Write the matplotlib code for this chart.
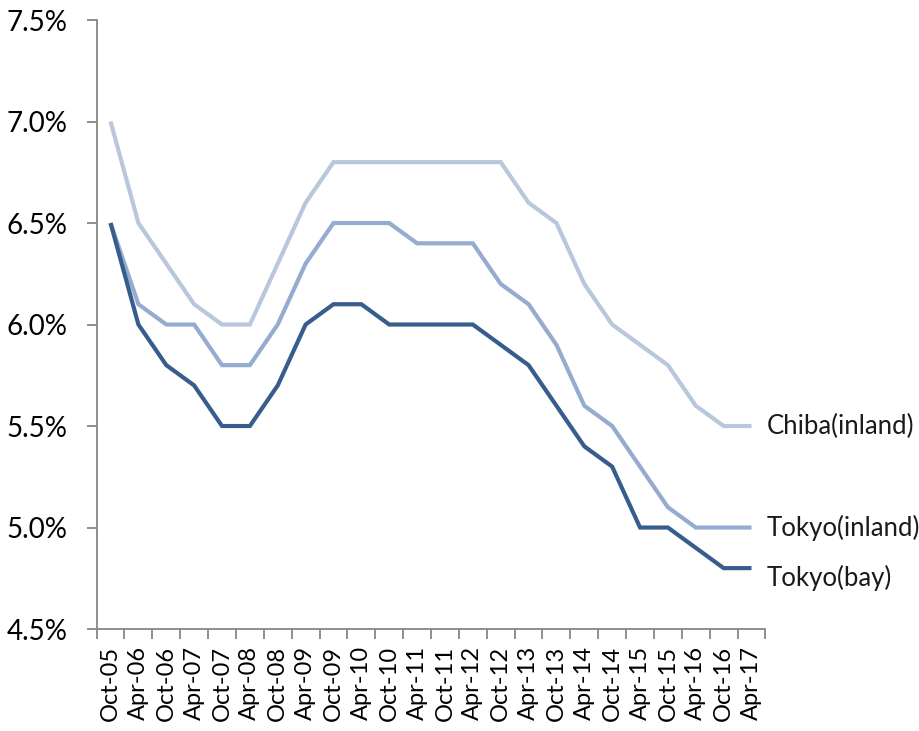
import matplotlib
matplotlib.use("Agg")
import matplotlib.pyplot as plt
from matplotlib.ticker import FuncFormatter, MultipleLocator
import numpy as np

# half-year periods
periods = ["Oct-05", "Apr-06", "Oct-06", "Apr-07", "Oct-07", "Apr-08", "Oct-08", "Apr-09",
           "Oct-09", "Apr-10", "Oct-10", "Apr-11", "Oct-11", "Apr-12", "Oct-12", "Apr-13",
           "Oct-13", "Apr-14", "Oct-14", "Apr-15", "Oct-15", "Apr-16", "Oct-16", "Apr-17"]

chiba_inland = [7.0, 6.5, 6.3, 6.1, 6.0, 6.0, 6.3, 6.6, 6.8, 6.8, 6.8, 6.8,
                6.8, 6.8, 6.8, 6.6, 6.5, 6.2, 6.0, 5.9, 5.8, 5.6, 5.5, 5.5]
tokyo_inland = [6.5, 6.1, 6.0, 6.0, 5.8, 5.8, 6.0, 6.3, 6.5, 6.5, 6.5, 6.4,
                6.4, 6.4, 6.2, 6.1, 5.9, 5.6, 5.5, 5.3, 5.1, 5.0, 5.0, 5.0]
tokyo_bay = [6.5, 6.0, 5.8, 5.7, 5.5, 5.5, 5.7, 6.0, 6.1, 6.1, 6.0, 6.0,
             6.0, 6.0, 5.9, 5.8, 5.6, 5.4, 5.3, 5.0, 5.0, 4.9, 4.8, 4.8]

series_names = ["Chiba(inland)", "Tokyo(inland)", "Tokyo(bay)"]
colors = ["#b9c7dd", "#95abd0", "#375d8c"]
label_offsets = [0, 0, -7]  # points, vertical nudge for the end labels

plt.rcParams['font.family'] = ['Lato', 'DejaVu Sans']

fig = plt.figure(figsize=(9.2, 7.31), dpi=100)
ax = fig.add_axes([0.105, 0.1395, 0.727, 0.8331])

x = np.arange(len(periods))
for name, vals, col, dy in zip(series_names, [chiba_inland, tokyo_inland, tokyo_bay], colors, label_offsets):
    ax.plot(x, vals, color=col, lw=3.0, solid_joinstyle='miter', solid_capstyle='butt')
    ax.annotate(name, xy=(x[-1], vals[-1]), xytext=(11, dy), textcoords='offset points',
                va='center', ha='left', fontsize=18.5, color='#1a1a1a', annotation_clip=False)

ax.set_xlim(-0.5, len(periods) - 0.5)
ax.set_ylim(4.5, 7.5)
ax.yaxis.set_major_locator(MultipleLocator(0.5))
ax.yaxis.set_major_formatter(FuncFormatter(lambda v, p: f"{v:.1f}%"))

# categories labelled at centre, tick marks between categories
ax.set_xticks(x)
ax.set_xticklabels(periods, rotation=90, fontsize=17)
ax.set_xticks(np.arange(-0.5, len(periods)), minor=True)
ax.tick_params(axis='x', which='major', length=0, pad=12)
ax.tick_params(axis='x', which='minor', length=7, width=1.3, color='#868686')
ax.tick_params(axis='y', length=7, width=1.3, color='#868686', labelsize=20, pad=14)

for s in ['top', 'right']:
    ax.spines[s].set_visible(False)
for s in ['left', 'bottom']:
    ax.spines[s].set_color('#868686')
    ax.spines[s].set_linewidth(1.3)

fig.savefig("out.png", dpi=100)
